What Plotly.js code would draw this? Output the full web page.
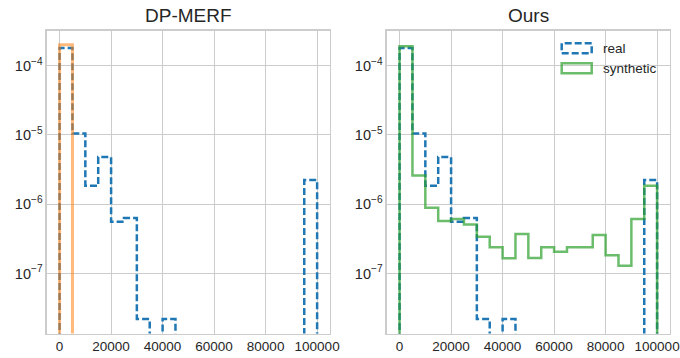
<!DOCTYPE html>
<html>
<head>
<meta charset="utf-8">
<script src="https://cdn.plot.ly/plotly-3.0.1.min.js"></script>
<style>html,body{margin:0;padding:0;background:#fff}#chart{width:680px;height:358px}</style>
</head>
<body>
<div id="chart"></div>
<script>
// ---- data ----
const binEdges = [0,5000,10000,15000,20000,25000,30000,35000,40000,45000,50000,
                  55000,60000,65000,70000,75000,80000,85000,90000,95000,100000];
const realDensity = [1.79e-4, 1.05e-5, 1.85e-6, 4.8e-6, 5.6e-7, 6.3e-7, 2.2e-8, 0, 2.2e-8, 0,
                     0, 0, 0, 0, 0, 0, 0, 0, 0, 2.23e-6];
const dpmerfDensity = [2.0e-4, 0, 0, 0, 0, 0, 0, 0, 0, 0,
                       0, 0, 0, 0, 0, 0, 0, 0, 0, 0];
const oursDensity = [1.9e-4, 2.6e-6, 8.9e-7, 5.7e-7, 6.1e-7, 5.1e-7, 3.4e-7, 2.4e-7, 1.66e-7, 3.7e-7,
                     1.67e-7, 2.4e-7, 2.05e-7, 2.4e-7, 2.4e-7, 3.6e-7, 1.83e-7, 1.29e-7, 6.1e-7, 1.85e-6];
const panelTitles = ["DP-MERF", "Ours"];
const seriesNames = ["real", "synthetic"];
const xTickVals = [0, 20000, 40000, 60000, 80000, 100000];
const xTickLabels = ["0", "20000", "40000", "60000", "80000", "100000"];
const yTickVals = [1e-7, 1e-6, 1e-5, 1e-4];
const yTickLabels = ["10<sup>\u22127</sup>", "10<sup>\u22126</sup>", "10<sup>\u22125</sup>", "10<sup>\u22124</sup>"];

// ---- helpers ----
const FLOOR = 1e-12;
function stepPath(edges, vals) {
  const xs = [edges[0]], ys = [FLOOR];
  for (let i = 0; i < vals.length; i++) {
    const v = vals[i] > 0 ? vals[i] : FLOOR;
    xs.push(edges[i], edges[i + 1]);
    ys.push(v, v);
  }
  xs.push(edges[edges.length - 1]); ys.push(FLOOR);
  return {x: xs, y: ys};
}

const W = 680, H = 358;
const BLUE = '#1f77b4';
const ORANGE = 'rgba(255,127,14,0.55)';
const GREEN = 'rgba(44,160,44,0.7)';
const DASH = '7px,3px';
const TXT = '#262626';
const FONT = 'Liberation Sans, Arial, sans-serif';

const rReal = stepPath(binEdges, realDensity);
const rDp = stepPath(binEdges, dpmerfDensity);
const rOurs = stepPath(binEdges, oursDensity);

const traces = [
  {x: rReal.x, y: rReal.y, xaxis: 'x', yaxis: 'y', mode: 'lines', name: seriesNames[0],
   line: {color: BLUE, width: 2.5, dash: DASH}, hoverinfo: 'skip', showlegend: false},
  {x: rDp.x, y: rDp.y, xaxis: 'x', yaxis: 'y', mode: 'lines', name: seriesNames[1],
   line: {color: ORANGE, width: 3}, hoverinfo: 'skip', showlegend: false},
  {x: rReal.x, y: rReal.y, xaxis: 'x2', yaxis: 'y2', mode: 'lines', name: seriesNames[0],
   line: {color: BLUE, width: 2.5, dash: DASH}, hoverinfo: 'skip', showlegend: false},
  {x: rOurs.x, y: rOurs.y, xaxis: 'x2', yaxis: 'y2', mode: 'lines', name: seriesNames[1],
   line: {color: GREEN, width: 2.5}, hoverinfo: 'skip', showlegend: false}
];

const px = v => v / W, py = v => 1 - v / H;
const yDom = [py(333.5), py(30.7)];
const xDom1 = [px(46.7), px(330)];
const xDom2 = [px(386.7), px(670)];

function xax(dom, anchor) {
  return {domain: dom, anchor: anchor, range: [-5000, 105000], tickvals: xTickVals, ticktext: xTickLabels,
    showgrid: true, gridcolor: '#cccccc', gridwidth: 1, zeroline: false,
    showline: true, mirror: true, linecolor: '#cccccc', linewidth: 1.25,
    ticks: '', tickfont: {size: 13.5, color: TXT, family: FONT}};
}
function yax(anchor) {
  return {domain: yDom, anchor: anchor, type: 'log', range: [-7.866, -3.497],
    tickvals: yTickVals, ticktext: yTickLabels,
    showgrid: true, gridcolor: '#cccccc', gridwidth: 1, zeroline: false,
    showline: true, mirror: true, linecolor: '#cccccc', linewidth: 1.25,
    ticks: '', tickfont: {size: 14.5, color: TXT, family: FONT}};
}

const layout = {
  width: W, height: H,
  margin: {l: 0, r: 0, t: 0, b: 0},
  paper_bgcolor: '#ffffff', plot_bgcolor: '#ffffff',
  showlegend: false,
  font: {family: FONT, color: TXT},
  xaxis: xax(xDom1, 'y'), yaxis: yax('x'),
  xaxis2: xax(xDom2, 'y2'), yaxis2: yax('x2'),
  annotations: [
    {text: panelTitles[0], xref: 'paper', yref: 'paper', x: (xDom1[0] + xDom1[1]) / 2, y: py(16),
     xanchor: 'center', yanchor: 'middle', showarrow: false, font: {size: 19, color: TXT, family: FONT}},
    {text: panelTitles[1], xref: 'paper', yref: 'paper', x: (xDom2[0] + xDom2[1]) / 2, y: py(16),
     xanchor: 'center', yanchor: 'middle', showarrow: false, font: {size: 19, color: TXT, family: FONT}},
    {text: seriesNames[0], xref: 'paper', yref: 'paper', x: px(601), y: py(48.3),
     xanchor: 'left', yanchor: 'middle', showarrow: false, font: {size: 13.5, color: TXT, family: FONT}},
    {text: seriesNames[1], xref: 'paper', yref: 'paper', x: px(601), y: py(68.3),
     xanchor: 'left', yanchor: 'middle', showarrow: false, font: {size: 13.5, color: TXT, family: FONT}}
  ],
  shapes: [
    {type: 'rect', xref: 'paper', yref: 'paper', x0: px(561.7), x1: px(591.7), y0: py(53.3), y1: py(43.3),
     line: {color: BLUE, width: 2.5, dash: DASH}, fillcolor: 'rgba(0,0,0,0)'},
    {type: 'rect', xref: 'paper', yref: 'paper', x0: px(561.7), x1: px(591.7), y0: py(73.3), y1: py(63.3),
     line: {color: GREEN, width: 2.5}, fillcolor: 'rgba(0,0,0,0)'}
  ]
};

Plotly.newPlot('chart', traces, layout, {staticPlot: true, displayModeBar: false});
</script>
</body>
</html>
